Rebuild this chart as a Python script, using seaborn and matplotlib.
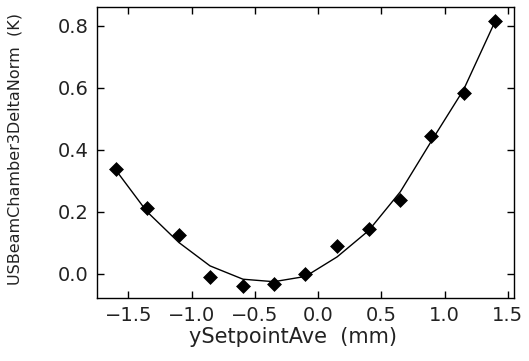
import numpy as np
import pandas as pd
import matplotlib
matplotlib.use('Agg')
import matplotlib.pyplot as plt
import seaborn as sns

# ==============================
# Data
# ==============================

y_setpoint = [-1.60, -1.354, -1.10, -0.855, -0.594, -0.35, -0.10,
              0.15, 0.40, 0.65, 0.895, 1.15, 1.40]
delta_norm = [0.338, 0.214, 0.127, -0.009, -0.039, -0.034, 0.000,
              0.090, 0.144, 0.237, 0.446, 0.584, 0.817]
fit_norm = [0.335, 0.201, 0.101, 0.026, -0.017, -0.025, -0.008,
            0.055, 0.140, 0.265, 0.428, 0.594, 0.815]

x_ticks = [-1.5, -1.0, -0.5, 0.0, 0.5, 1.0, 1.5]
y_ticks = [0.0, 0.2, 0.4, 0.6, 0.8]

df = pd.DataFrame({'x': y_setpoint, 'y': delta_norm, 'fit': fit_norm})

# ==============================
# Style
# ==============================

sns.set_style("ticks")
plt.rcParams['font.family'] = ['DejaVu Sans']
plt.rcParams['xtick.direction'] = 'in'
plt.rcParams['ytick.direction'] = 'in'

fig = plt.figure(figsize=(5.29, 3.61), dpi=100)
ax = fig.add_axes([0.183, 0.175, 0.789, 0.806])

sns.lineplot(data=df, x='x', y='fit', color='black', linewidth=1.0, ax=ax)
sns.scatterplot(data=df, x='x', y='y', marker='D', s=50, color='black',
                edgecolor='black', linewidth=0.5, ax=ax, zorder=3)

ax.set_xlim(-1.75, 1.55)
ax.set_ylim(-0.077, 0.861)
ax.set_xticks(x_ticks)
ax.set_yticks(y_ticks)
ax.set_xticklabels([f'{t:.1f}'.replace('-', '\u2212') for t in x_ticks])
ax.set_yticklabels([f'{t:.1f}' for t in y_ticks])
ax.tick_params(axis='both', which='major', length=5, width=1, labelsize=14,
               top=True, right=True, pad=6, color='black', labelcolor='#222222')

for s in ax.spines.values():
    s.set_linewidth(1.0)
    s.set_color('black')

ax.set_xlabel('ySetpointAve  (mm)', fontsize=15, labelpad=2, color='#222222')
ax.xaxis.set_label_coords(0.47, -0.1)
ax.xaxis.label.set_va('top')
ax.set_ylabel('USBeamChamber3DeltaNorm  (K)', fontsize=11.5, color='#222222')
ax.yaxis.set_label_coords(-0.178, 0.51)

plt.savefig('out.png', dpi=100)
plt.close()
